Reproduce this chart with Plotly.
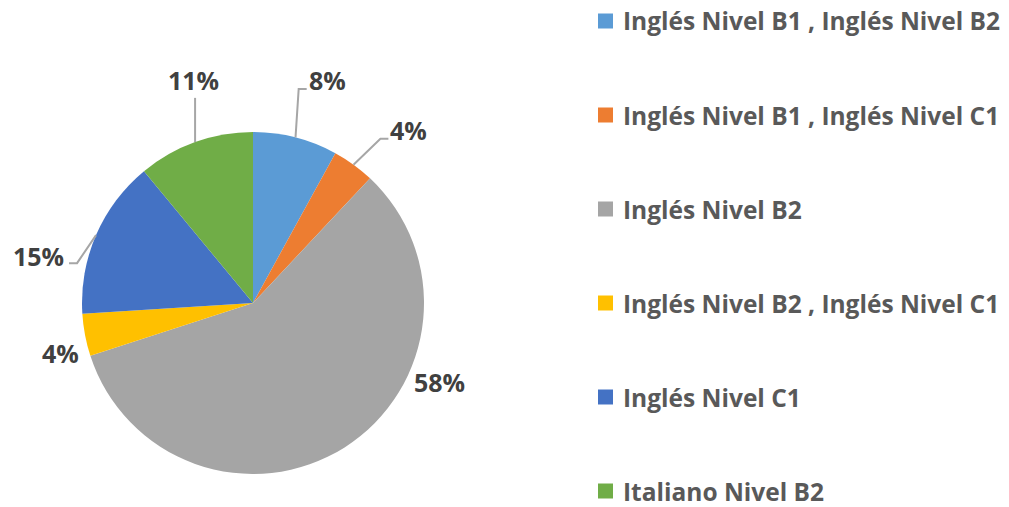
import math
import plotly.graph_objects as go

# ---- data ----
categories = [
    "Inglés Nivel B1 , Inglés Nivel B2",
    "Inglés Nivel B1 , Inglés Nivel C1",
    "Inglés Nivel B2",
    "Inglés Nivel B2 , Inglés Nivel C1",
    "Inglés Nivel C1",
    "Italiano Nivel B2",
]
values = [8, 4, 58, 4, 15, 11]
colors = ["#5B9BD5", "#ED7D31", "#A5A5A5", "#FFC000", "#4472C4", "#70AD47"]

# ---- layout parameters (label placement tweaks, not data) ----
label_angle_shift = [4.0, 6.0, -34.6, -3.7, -11.1, 4.8]   # degrees
label_dist = [235, 233, 203, 199, 220, 231]                # px from centre

W, H = 1009, 507
CX, CY, R = 253, 303, 171
FONT = "Open Sans"
TEXT_COL = "#404040"
LEG_COL = "#595959"
FS_LAB = 25
FS_LEG = 24.5
LEG_X0, LEG_Y0, LEG_STEP = 598, 21, 94

def px2paper(x, y):
    return x / W, 1 - y / H

fig = go.Figure()
fig.add_trace(go.Pie(
    labels=categories, values=values, sort=False, direction="clockwise",
    rotation=0, textinfo="none", hoverinfo="label+percent",
    marker=dict(colors=colors, line=dict(color="white", width=0)),
    domain=dict(x=[(CX - R) / W, (CX + R) / W], y=[1 - (CY + R) / H, 1 - (CY - R) / H]),
    showlegend=False,
))

total = sum(values)
cum = 0.0
annotations = []
shapes = []
for i, v in enumerate(values):
    mid = (cum + v / 2) / total * 360.0
    cum += v
    pct = f"{round(v / total * 100)}%"
    ang = math.radians(mid + label_angle_shift[i])
    lx = CX + label_dist[i] * math.sin(ang)
    ly = CY - label_dist[i] * math.cos(ang)
    ax, ay = px2paper(lx, ly)
    annotations.append(dict(
        x=ax, y=ay, xref="paper", yref="paper", text=pct, showarrow=False,
        xanchor="center", yanchor="middle",
        font=dict(family=FONT, size=FS_LAB, color=TEXT_COL, weight="bold"),
    ))
    if label_dist[i] > 210:
        ma = math.radians(mid)
        sx = CX + R * math.sin(ma)
        sy = CY - R * math.cos(ma)
        tw = 15 * (len(pct) - 1) + 22
        if lx > sx + 10:
            ex, ey = lx - tw / 2 - 2, ly + 9
            kx, ky = ex - 8, ey
        elif lx < sx - 10:
            ex, ey = lx + tw / 2 + 5, ly + 7
            kx, ky = ex + 8, ey
        else:
            ex, ey = sx, ly + 18
            kx, ky = ex, ey
        p1 = px2paper(sx, sy)
        p2 = px2paper(kx, ky)
        p3 = px2paper(ex, ey)
        path = f"M {p1[0]},{p1[1]} L {p2[0]},{p2[1]} L {p3[0]},{p3[1]}"
        shapes.append(dict(type="path", xref="paper", yref="paper", path=path,
                           line=dict(color="#A6A6A6", width=2)))

# manual legend (squares + text), evenly spaced as in the reference
for i, (c, col) in enumerate(zip(categories, colors)):
    yc = LEG_Y0 + i * LEG_STEP
    x0, y0 = px2paper(LEG_X0, yc - 7.5)
    x1, y1 = px2paper(LEG_X0 + 15, yc + 7.5)
    shapes.append(dict(type="rect", xref="paper", yref="paper",
                       x0=x0, x1=x1, y0=y1, y1=y0,
                       fillcolor=col, line=dict(width=0)))
    tx, ty = px2paper(LEG_X0 + 23, yc)
    annotations.append(dict(
        x=tx, y=ty, xref="paper", yref="paper", text=c, showarrow=False,
        xanchor="left", yanchor="middle",
        font=dict(family=FONT, size=FS_LEG, color=LEG_COL, weight="bold"),
    ))

fig.update_layout(
    width=W, height=H,
    margin=dict(l=0, r=0, t=0, b=0),
    paper_bgcolor="white", plot_bgcolor="white",
    annotations=annotations, shapes=shapes,
    showlegend=False,
)

fig.write_html("out.html", config={"displayModeBar": False},
               post_script="document.body.style.margin='0';")
